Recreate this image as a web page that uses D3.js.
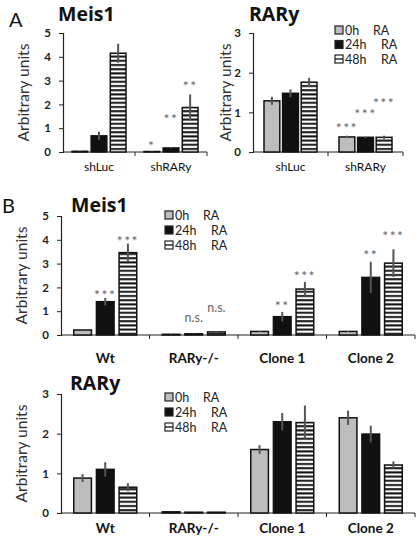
<!DOCTYPE html>
<html><head><meta charset="utf-8">
<script src="https://cdn.jsdelivr.net/npm/d3@7"></script>
<style>body{margin:0;background:#fff}svg{display:block}</style>
</head><body>
<script>
// ---------- DATA ----------
const seriesNames = ["0h", "24h", "48h"];
const legendSuffix = "RA";

const catsA = ["shLuc", "shRARy"];
const meisA = [[0.03, 0.68, 4.15], [0.02, 0.17, 1.87]];
const meisAErr = [[0.01, 0.17, 0.4], [0.01, 0.02, 0.55]];
const meisAStars = [["", "", ""], ["*", "**", "**"]];
const meisAStarAt = [[0, 0, 0], [0.38, 1.5, 2.9]];   // label height, in axis units
const meisATicks = [0, 1, 2, 3, 4, 5];

const rarA = [[1.29, 1.48, 1.76], [0.38, 0.37, 0.37]];
const rarAErr = [[0.1, 0.1, 0.11], [0.03, 0.02, 0.04]];
const rarAStars = [["", "", ""], ["***", "***", "***"]];
const rarAStarAt = [[0, 0, 0], [0.68, 1.03, 1.31]];
const rarATicks = [0, 1, 2, 3];

const catsB = ["Wt", "RARy-/-", "Clone 1", "Clone 2"];
const meisB = [[0.21, 1.4, 3.46], [0.03, 0.05, 0.13], [0.15, 0.77, 1.93], [0.15, 2.42, 3.02]];
const meisBErr = [[0.02, 0.16, 0.38], [0.01, 0.01, 0.03], [0.02, 0.2, 0.3], [0.02, 0.66, 0.58]];
const meisBStars = [["", "***", "***"], ["", "n.s.", "n.s."], ["", "**", "***"], ["", "**", "***"]];
const meisBStarAt = [[0, 1.82, 4.08], [0, 0.71, 1.13], [0, 1.34, 2.6], [0, 3.49, 4.29]];
const meisBTicks = [0, 1, 2, 3, 4, 5];

const rarB = [[0.88, 1.1, 0.65], [0.03, 0.02, 0.02], [1.6, 2.3, 2.28], [2.4, 1.99, 1.21]];
const rarBErr = [[0.1, 0.18, 0.1], [0, 0, 0], [0.11, 0.22, 0.43], [0.18, 0.21, 0.09]];
const rarBStars = [["", "", ""], ["", "", ""], ["", "", ""], ["", "", ""]];
const rarBStarAt = [[0, 0, 0], [0, 0, 0], [0, 0, 0], [0, 0, 0]];
const rarBTicks = [0, 1, 2, 3];

// ---------- DRAW ----------
const W = 417, H = 540;
const font = "Lato, 'Open Sans', sans-serif";
const svg = d3.select("body").append("svg").attr("width", W).attr("height", H);
const defs = svg.append("defs");
const pat = defs.append("pattern").attr("id", "hatch").attr("patternUnits", "userSpaceOnUse")
  .attr("width", 8).attr("height", 4.2);
pat.append("rect").attr("width", 8).attr("height", 4.2).attr("fill", "#fff");
pat.append("rect").attr("y", 1).attr("width", 8).attr("height", 2).attr("fill", "#111");

const fills = ["#bdbdbd", "#111", "url(#hatch)"];

function panel(o) {
  const g = svg.append("g");
  const x = d3.scaleBand().domain(o.cats).range([o.x0, o.x1]).padding(0);
  const y = d3.scaleLinear().domain([0, o.ymax]).range([o.y0, o.yTop]);
  const inner = d3.scaleBand().domain(seriesNames)
    .range([(x.bandwidth() - o.gw) / 2, (x.bandwidth() + o.gw) / 2]).paddingInner(o.pin);

  // y axis
  const ya = g.append("g").attr("transform", `translate(${o.x0},0)`)
    .call(d3.axisLeft(y).tickValues(o.ticks).tickSize(4).tickPadding(8).tickFormat(d3.format("d")));
  ya.select(".domain").attr("stroke", "#222").attr("stroke-width", 1.2);
  ya.selectAll(".tick line").attr("stroke", "#222");
  ya.selectAll("text").attr("font-family", font).attr("font-size", 11.5).attr("font-weight", "bold").attr("fill", "#222");

  // x axis
  const xa = g.append("g").attr("transform", `translate(0,${o.y0})`);
  xa.append("line").attr("x1", o.x0).attr("x2", o.x1).attr("stroke", "#222").attr("stroke-width", 1.2);
  const edges = o.cats.map(c => x(c)).concat([o.x1]).slice(1);
  xa.selectAll(".xt").data(edges).join("line").attr("x1", d => d).attr("x2", d => d)
    .attr("y1", 0).attr("y2", 4).attr("stroke", "#222");
  xa.selectAll(".xl").data(o.cats).join("text")
    .attr("x", d => x(d) + x.bandwidth() / 2).attr("y", o.labY - o.y0)
    .attr("text-anchor", "middle").attr("font-family", font)
    .attr("font-size", o.labSize).attr("font-weight", o.labWeight).attr("fill", "#111").text(d => d);

  // bars
  o.cats.forEach((c, ci) => {
    const gc = g.append("g").attr("transform", `translate(${x(c)},0)`);
    seriesNames.forEach((s, si) => {
      const v = o.vals[ci][si], e = o.err[ci][si];
      const bx = inner(s), bw = inner.bandwidth();
      const top = y(v);
      gc.append("rect").attr("x", bx).attr("y", top).attr("width", bw)
        .attr("height", Math.max(0, o.y0 - top)).attr("fill", fills[si])
        .attr("stroke", "#111").attr("stroke-width", 1.5);
      if (e > 0) {
        gc.append("line").attr("x1", bx + bw / 2).attr("x2", bx + bw / 2)
          .attr("y1", y(v - e)).attr("y2", y(v + e)).attr("stroke", "#555").attr("stroke-width", 2);
      }
      const st = o.stars[ci][si];
      if (st) {
        const ns = st === "n.s.";
        gc.append("text").attr("x", bx + bw / 2)
          .attr("y", y(o.starAt[ci][si]) + (ns ? 4 : 8))
          .attr("text-anchor", "middle").attr("font-family", font)
          .attr("font-size", ns ? 12.5 : 14).attr("letter-spacing", ns ? 0 : 1.5)
          .attr("fill", "#666").text(st);
      }
    });
  });

  // y label
  g.append("text").attr("transform", `translate(${o.ylabX},${(o.y0 + o.yTop) / 2}) rotate(-90)`)
    .attr("text-anchor", "middle").attr("dominant-baseline", "central").attr("font-family", font).attr("font-size", 15.5)
    .attr("fill", "#333").text("Arbitrary units");

  // title
  g.append("text").attr("x", o.titleX).attr("y", o.titleY).attr("font-family", "'Open Sans', sans-serif")
    .attr("font-weight", "bold").attr("font-size", 19.5).attr("fill", "#111").text(o.title);

  // legend
  if (o.leg) {
    seriesNames.forEach((s, si) => {
      const ly = o.leg.y + si * o.leg.dy;
      g.append("rect").attr("x", o.leg.x).attr("y", ly - 4).attr("width", 8).attr("height", 8)
        .attr("fill", si === 2 ? "#fff" : fills[si]).attr("stroke", "#222").attr("stroke-width", 1.2);
      if (si === 2) g.append("line").attr("x1", o.leg.x).attr("x2", o.leg.x + 8)
        .attr("y1", ly).attr("y2", ly).attr("stroke", "#222").attr("stroke-width", 1.4);
      g.append("text").attr("x", o.leg.x + 10).attr("y", ly + 4.5).attr("font-family", font)
        .attr("font-size", 12.5).attr("fill", "#222").text(s);
      g.append("text").attr("x", o.leg.x + (si === 0 ? 38 : 46)).attr("y", ly + 4.5).attr("font-family", font)
        .attr("font-size", 12.5).attr("fill", "#222").text(legendSuffix);
    });
  }
}

panel({cats: catsA, vals: meisA, err: meisAErr, stars: meisAStars, starAt: meisAStarAt, ticks: meisATicks, ymax: 5,
  x0: 63, x1: 207, y0: 152, yTop: 33, gw: 54, pin: 0.18, labY: 171, labSize: 12, labWeight: "normal",
  ylabX: 23, title: "Meis1", titleX: 58, titleY: 21});
panel({cats: catsA, vals: rarA, err: rarAErr, stars: rarAStars, starAt: rarAStarAt, ticks: rarATicks, ymax: 3,
  x0: 253, x1: 403, y0: 152, yTop: 33, gw: 53, pin: 0.15, labY: 171, labSize: 12, labWeight: "normal",
  ylabX: 225, title: "RARy", titleX: 249, titleY: 21, leg: {x: 335, y: 30, dy: 14.5}});
panel({cats: catsB, vals: meisB, err: meisBErr, stars: meisBStars, starAt: meisBStarAt, ticks: meisBTicks, ymax: 5,
  x0: 61, x1: 415, y0: 335, yTop: 216, gw: 63, pin: 0.22, labY: 363, labSize: 13.5, labWeight: "bold",
  ylabX: 21, title: "Meis1", titleX: 71, titleY: 212, leg: {x: 165, y: 215, dy: 15}});
panel({cats: catsB, vals: rarB, err: rarBErr, stars: rarBStars, starAt: rarBStarAt, ticks: rarBTicks, ymax: 3,
  x0: 61, x1: 415, y0: 513, yTop: 394, gw: 63, pin: 0.22, labY: 533, labSize: 13.5, labWeight: "bold",
  ylabX: 21, title: "RARy", titleX: 70, titleY: 390, leg: {x: 165, y: 397, dy: 15}});

svg.append("text").attr("x", 9).attr("y", 27).attr("font-family", font).attr("font-size", 20).attr("fill", "#111").text("A");
svg.append("text").attr("x", 2).attr("y", 213).attr("font-family", font).attr("font-size", 20).attr("fill", "#111").text("B");
</script>
</body></html>
